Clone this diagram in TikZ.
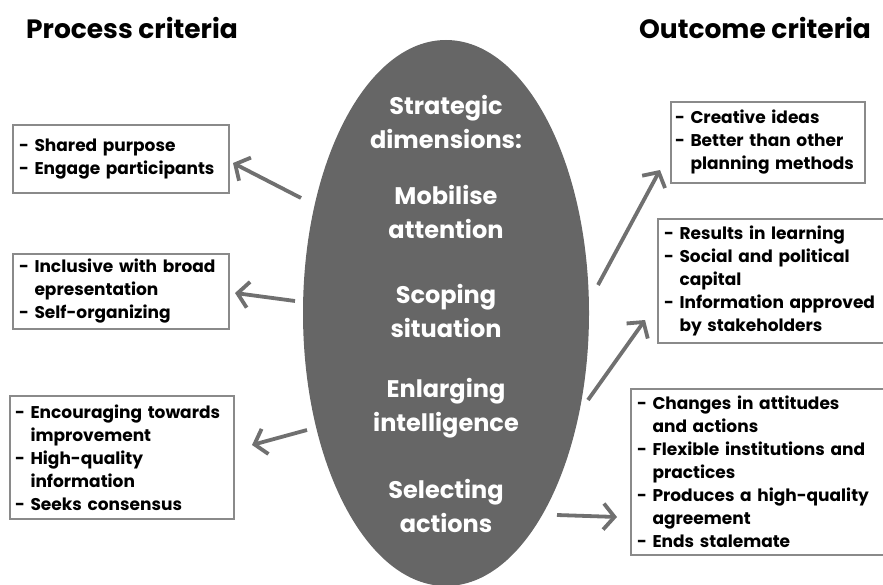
\documentclass[tikz,border=0pt]{standalone}
\usepackage{fontspec}
\setmainfont{Poppins}
\usetikzlibrary{shapes.geometric,arrows.meta}
\definecolor{ellgray}{HTML}{666666}
\definecolor{arrgray}{HTML}{707070}
\definecolor{boxgray}{HTML}{8A8A8A}
\hyphenpenalty=10000
\exhyphenpenalty=10000
\begin{document}
\begin{tikzpicture}[x=1pt,y=-1pt,
  crit/.style={draw=boxgray,line width=1.3pt,inner sep=0pt,align=left,
    font=\fontsize{17}{23}\selectfont\bfseries},
  title/.style={font=\fontsize{26.5}{30}\selectfont\bfseries,inner sep=0pt},
  dimtext/.style={text=white,align=center,inner sep=0pt,
    font=\fontsize{24}{34.5}\selectfont\bfseries},
  arr/.style={draw=arrgray,line width=3.8pt,
    -{Straight Barb[length=11pt,width=26pt,line width=3.8pt]}}]
\useasboundingbox (0,0) rectangle (883,585);
\clip (0,0) rectangle (883,585);
\node[title] (ptitle) at (132,28) {Process criteria};
\node[title] (otitle) at (755,28) {Outcome criteria};
\node[ellipse,fill=ellgray,minimum width=286pt,minimum height=546pt,inner sep=0pt] (ell) at (446,313) {};
\node[dimtext] (dims) at (446,122) {Strategic\\dimensions:};
\node[dimtext] (mob) at (446,212) {Mobilise\\attention};
\node[dimtext] (scop) at (446,311) {Scoping\\situation};
\node[dimtext] (enl) at (446,408) {Enlarging\\intelligence};
\node[dimtext] (sel) at (446,506) {Selecting\\actions};
% left boxes
\node[crit,minimum width=216pt,minimum height=68pt,text width=204pt] (l1) at (121,159)
  {- Shared purpose\\- Engage participants};
\node[crit,minimum width=216pt,minimum height=75pt,text width=204pt] (l2) at (121,291.5)
  {- Inclusive with broad\\\phantom{- }epresentation\\- Self-organizing};
\node[crit,minimum width=224pt,minimum height=123pt,text width=214pt] (l3) at (122,457.5)
  {- Encouraging towards\\\phantom{- }improvement\\- High-quality\\\phantom{- }information\\- Seeks consensus};
% right boxes
\node[crit,minimum width=194pt,minimum height=81pt,text width=186pt] (r1) at (768,142.5)
  {- Creative ideas\\- Better than other\\\phantom{- }planning methods};
\node[crit,minimum width=228pt,minimum height=124pt,text width=216pt] (r2) at (772,281)
  {- Results in learning\\- Social and political\\\phantom{- }capital\\- Information approved\\\phantom{- }by stakeholders};
\node[crit,minimum width=258pt,minimum height=166pt,text width=246pt] (r3) at (760,472)
  {- Changes in attitudes\\\phantom{- }and actions\\- Flexible institutions and\\\phantom{- }practices\\- Produces a high-quality\\\phantom{- }agreement\\- Ends stalemate};
% connector ends
\coordinate (t1) at (301,198); \coordinate (h1) at (233,163);
\coordinate (t2) at (295,301); \coordinate (h2) at (235,293);
\coordinate (t3) at (307,430); \coordinate (h3) at (252,445);
\coordinate (t4) at (598,285); \coordinate (h4) at (660,170);
\coordinate (t5) at (588,400); \coordinate (h5) at (645,320);
\coordinate (t6) at (557,515); \coordinate (h6) at (617,517);
\draw[arr] (t1) -- (h1);
\draw[arr] (t2) -- (h2);
\draw[arr] (t3) -- (h3);
\draw[arr] (t4) -- (h4);
\draw[arr] (t5) -- (h5);
\draw[arr] (t6) -- (h6);
\end{tikzpicture}
\end{document}
